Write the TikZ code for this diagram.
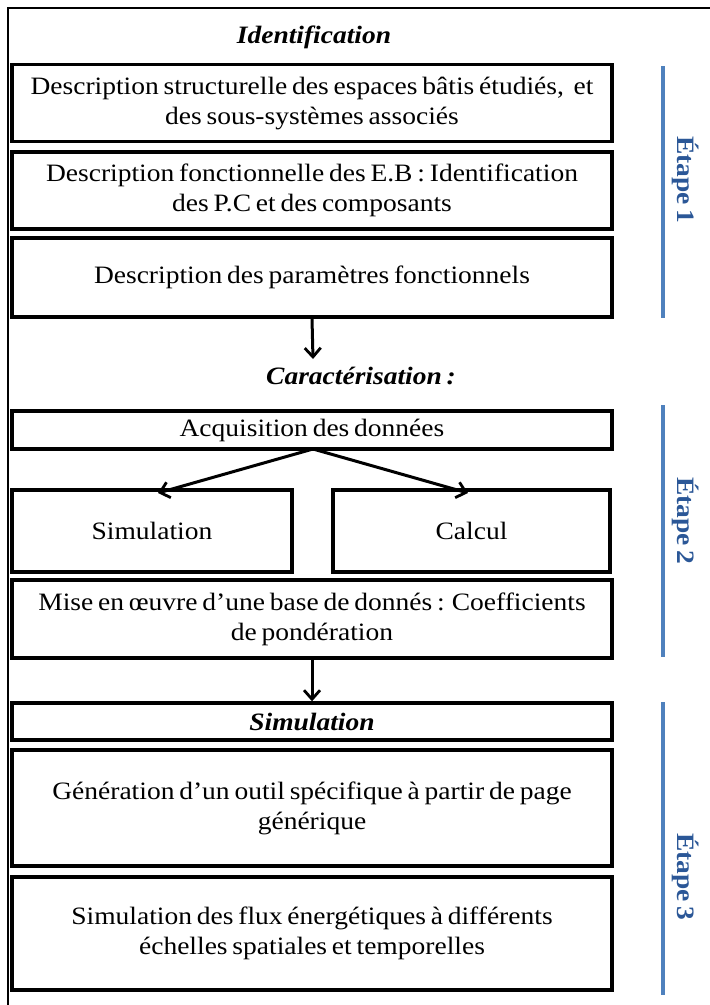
\documentclass[tikz,border=0pt]{standalone}
\usepackage{fontspec}
\setmainfont[FakeStretch=1.1,WordSpace=0.7]{Liberation Serif}
\usetikzlibrary{arrows.meta}
\definecolor{stepline}{HTML}{4F81BD}
\definecolor{steptext}{HTML}{2B5797}
\begin{document}
\begin{tikzpicture}[x=1pt,y=-1pt,
  box/.style={draw, line width=3.4pt, align=center, inner sep=0pt,
    font=\fontsize{25}{30}\selectfont},
  title/.style={font=\fontsize{25}{30}\selectfont\bfseries\itshape},
  arr/.style={line width=3pt, -{Straight Barb[length=9pt,width=16pt,line width=2.8pt]}},
  steprule/.style={draw=stepline, line width=3.4pt},
  steplabel/.style={rotate=-90, text=steptext, font=\fontsize{25}{30}\selectfont\bfseries}]
\useasboundingbox (0,0) rectangle (710,1005);
\draw[line width=2pt] (8,1005) -- (8,8) -- (710,8);
\node[title] (ident) at (314,37) {Identification};
\node[box, minimum width=600pt, minimum height=77pt] (b1) at (312,103) {Description structurelle des espaces bâtis étudiés,\ \ et\\des sous-systèmes associés};
\node[box, minimum width=600pt, minimum height=77pt] (b2) at (312,190.5) {Description fonctionnelle des E.B : Identification\\des P.C et des composants};
\node[box, minimum width=600pt, minimum height=79pt] (b3) at (312,277.5) {Description des paramètres fonctionnels};
\coordinate (a1) at (313,359);
\draw[arr] (b3.south) -- (a1);
\node[title] (carac) at (361,376) {Caractérisation :};
\node[box, minimum width=600pt, minimum height=38pt] (acq) at (312,430) {Acquisition des données};
\node[box, minimum width=280pt, minimum height=82pt] (sim) at (152,531) {Simulation};
\node[box, minimum width=277pt, minimum height=82pt] (calc) at (471.5,531) {Calcul};
\coordinate (s1) at (313,449);
\coordinate (t1) at (158,493);
\coordinate (t2) at (468,493);
\draw[arr] (s1) -- (t1);
\draw[arr] (s1) -- (t2);
\node[box, minimum width=600pt, minimum height=78pt] (mise) at (312,619) {Mise en œuvre d’une base de donnés : Coefficients\\de pondération};
\node[box, minimum width=600pt, minimum height=37pt, font=\fontsize{25}{30}\selectfont\bfseries\itshape] (simt) at (312,721.5) {Simulation};
\draw[arr] (mise.south) -- (simt.north);
\node[box, minimum width=600pt, minimum height=116pt] (gen) at (312,808) {Génération d’un outil spécifique à partir de page\\générique};
\node[box, minimum width=600pt, minimum height=113pt] (flux) at (312,933.5) {Simulation des flux énergétiques à différents\\échelles spatiales et temporelles};
\draw[steprule] (663,66) -- (663,318);
\node[steplabel] (e1) at (686,180) {Étape 1};
\draw[steprule] (663,405) -- (663,657);
\node[steplabel] (e2) at (686,521) {Étape 2};
\draw[steprule] (663,702) -- (663,995);
\node[steplabel] (e3) at (686,877) {Étape 3};
\end{tikzpicture}
\end{document}
